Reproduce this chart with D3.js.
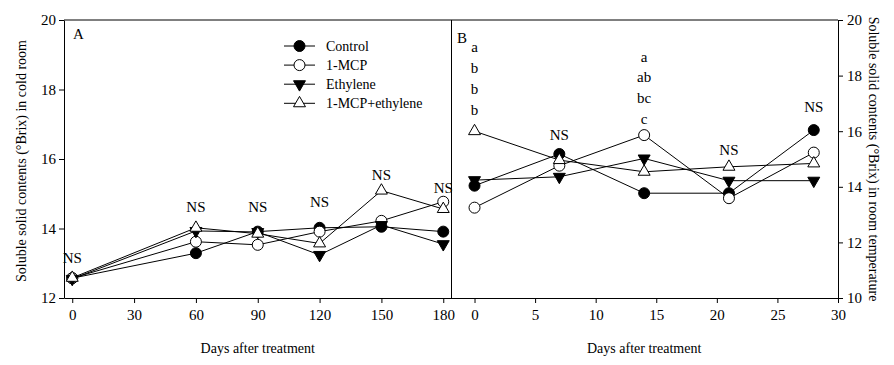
<!DOCTYPE html>
<html>
<head>
<meta charset="utf-8">
<script src="https://cdn.jsdelivr.net/npm/d3@7"></script>
<style>
  body { margin: 0; background: #fff; }
  text { font-family: "Liberation Serif", "Times New Roman", serif; fill: #000; }
  .axis path, .axis line { stroke: #000; stroke-width: 1; }
  .axis text { font-size: 15px; font-family: "Liberation Serif", serif; }
</style>
</head>
<body>
<div id="chart"></div>
<script>
// series names, in legend order
var seriesNames = ["Control", "1-MCP", "Ethylene", "1-MCP+ethylene"];

// panel A: cold room, days 0-180
var daysA = [0, 60, 90, 120, 150, 180];
var controlA  = [12.57, 13.29, 13.91, 14.02, 14.05, 13.91];
var mcpA      = [12.57, 13.62, 13.53, 13.91, 14.22, 14.77];
var ethyleneA = [12.55, 13.93, 13.90, 13.24, 14.10, 13.55];
var mcpEthA   = [12.58, 14.02, 13.85, 13.57, 15.09, 14.56];

// panel B: room temperature, days 0-28
var daysB = [0, 7, 14, 21, 28];
var controlB  = [14.04, 15.18, 13.77, 13.77, 16.04];
var mcpB      = [13.25, 14.76, 15.86, 13.59, 15.23];
var ethyleneB = [14.24, 14.36, 15.02, 14.22, 14.22];
var mcpEthB   = [16.00, 14.96, 14.54, 14.72, 14.84];

// significance labels (day, text, level in data units)
var notesA = [[0, "NS", 13.15], [60, "NS", 14.62], [90, "NS", 14.63], [120, "NS", 14.77], [150, "NS", 15.54], [180, "NS", 15.17]];
var notesB = [[0, "a", 19.03], [0, "b", 18.27], [0, "b", 17.52], [0, "b", 16.76],
              [7, "NS", 15.86],
              [14, "a", 18.67], [14, "ab", 17.95], [14, "bc", 17.19], [14, "c", 16.44],
              [21, "NS", 15.32], [28, "NS", 16.87]];

var ticksA = [0, 30, 60, 90, 120, 150, 180];
var ticksB = [0, 5, 10, 15, 20, 25, 30];

var width = 894, height = 365;
var plotTop = 20, plotBottom = 298, plotLeft = 64, plotMid = 451.5, plotRight = 838;

var svg = d3.select("#chart").append("svg")
  .attr("width", width)
  .attr("height", height);

var xA = d3.scaleLinear().domain([-4, 184]).range([plotLeft, plotMid]);
var yA = d3.scaleLinear().domain([12, 20]).range([plotBottom, plotTop]);
var xB = d3.scaleLinear().domain([-1.9, 30]).range([plotMid, plotRight]);
var yB = d3.scaleLinear().domain([10, 20]).range([plotBottom, plotTop]);

// marker shapes
var symbols = [
  {type: d3.symbolCircle, size: 95, fill: "#000", rot: 0},
  {type: d3.symbolCircle, size: 95, fill: "#fff", rot: 0},
  {type: d3.symbolTriangle, size: 62, fill: "#000", rot: 180},
  {type: d3.symbolTriangle, size: 62, fill: "#fff", rot: 0}
];

// axes
svg.append("g").attr("class", "axis")
  .attr("transform", "translate(" + plotLeft + ",0)")
  .call(d3.axisLeft(yA).tickValues([12, 14, 16, 18, 20]).tickSize(5).tickSizeOuter(0).tickPadding(3));
svg.append("g").attr("class", "axis")
  .attr("transform", "translate(0," + plotBottom + ")")
  .call(d3.axisBottom(xA).tickValues(ticksA).tickSize(5).tickSizeOuter(0).tickPadding(6));
svg.append("g").attr("class", "axis")
  .attr("transform", "translate(0," + plotBottom + ")")
  .call(d3.axisBottom(xB).tickValues(ticksB).tickSize(5).tickSizeOuter(0).tickPadding(6));
svg.append("g").attr("class", "axis")
  .attr("transform", "translate(" + plotRight + ",0)")
  .call(d3.axisRight(yB).tickValues([10, 12, 14, 16, 18, 20]).tickSize(5).tickSizeOuter(0).tickPadding(4));

// frame: top line and panel divider
svg.append("line").attr("x1", plotLeft).attr("x2", plotRight).attr("y1", plotTop).attr("y2", plotTop)
  .attr("stroke", "#000");
svg.append("line").attr("x1", plotMid).attr("x2", plotMid).attr("y1", plotTop).attr("y2", plotBottom)
  .attr("stroke", "#000");

function drawPanel(x, y, days, series) {
  var line = d3.line()
    .x(function(d, i) { return x(days[i]); })
    .y(function(d) { return y(d); });
  series.forEach(function(vals) {
    svg.append("path")
      .datum(vals)
      .attr("d", line)
      .attr("fill", "none")
      .attr("stroke", "#000")
      .attr("stroke-width", 1);
  });
  series.forEach(function(vals, s) {
    var sym = symbols[s];
    svg.selectAll(null)
      .data(vals)
      .enter().append("path")
      .attr("d", d3.symbol().type(sym.type).size(sym.size))
      .attr("transform", function(d, i) {
        return "translate(" + x(days[i]) + "," + y(d) + ") rotate(" + sym.rot + ")";
      })
      .attr("fill", sym.fill)
      .attr("stroke", "#000")
      .attr("stroke-width", 1);
  });
}

drawPanel(xA, yA, daysA, [controlA, mcpA, ethyleneA, mcpEthA]);
drawPanel(xB, yB, daysB, [controlB, mcpB, ethyleneB, mcpEthB]);

function drawNotes(x, y, notes) {
  svg.selectAll(null)
    .data(notes)
    .enter().append("text")
    .attr("x", function(d) { return x(d[0]); })
    .attr("y", function(d) { return y(d[2]); })
    .attr("dy", "0.35em")
    .attr("text-anchor", "middle")
    .style("font-size", "15px")
    .text(function(d) { return d[1]; });
}
drawNotes(xA, yA, notesA);
drawNotes(xB, yB, notesB);

// panel letters
svg.append("text").attr("x", 73).attr("y", 39).style("font-size", "15px").text("A");
svg.append("text").attr("x", 457).attr("y", 43).style("font-size", "15px").text("B");

// legend
var legend = svg.append("g").attr("transform", "translate(284,46)");
seriesNames.forEach(function(name, i) {
  var g = legend.append("g").attr("transform", "translate(0," + (i * 19.1) + ")");
  g.append("line").attr("x1", 0).attr("x2", 31).attr("y1", 0).attr("y2", 0).attr("stroke", "#000");
  g.append("path")
    .attr("d", d3.symbol().type(symbols[i].type).size(symbols[i].size))
    .attr("transform", "translate(15.5,0) rotate(" + symbols[i].rot + ")")
    .attr("fill", symbols[i].fill)
    .attr("stroke", "#000");
  g.append("text").attr("x", 42).attr("dy", "0.35em").style("font-size", "14px").text(name);
});

// axis titles
svg.append("text")
  .attr("x", xA(90)).attr("y", 353)
  .attr("text-anchor", "middle").style("font-size", "14px")
  .text("Days after treatment");
svg.append("text")
  .attr("x", xB(14)).attr("y", 353)
  .attr("text-anchor", "middle").style("font-size", "14px")
  .text("Days after treatment");
svg.append("text")
  .attr("transform", "translate(26,161) rotate(-90)")
  .attr("text-anchor", "middle").style("font-size", "14px")
  .text("Soluble solid contents (°Brix) in cold room");
svg.append("text")
  .attr("transform", "translate(869,159) rotate(90)")
  .attr("text-anchor", "middle").style("font-size", "14px")
  .text("Soluble solid contents (°Brix) in room temperature");
</script>
</body>
</html>
